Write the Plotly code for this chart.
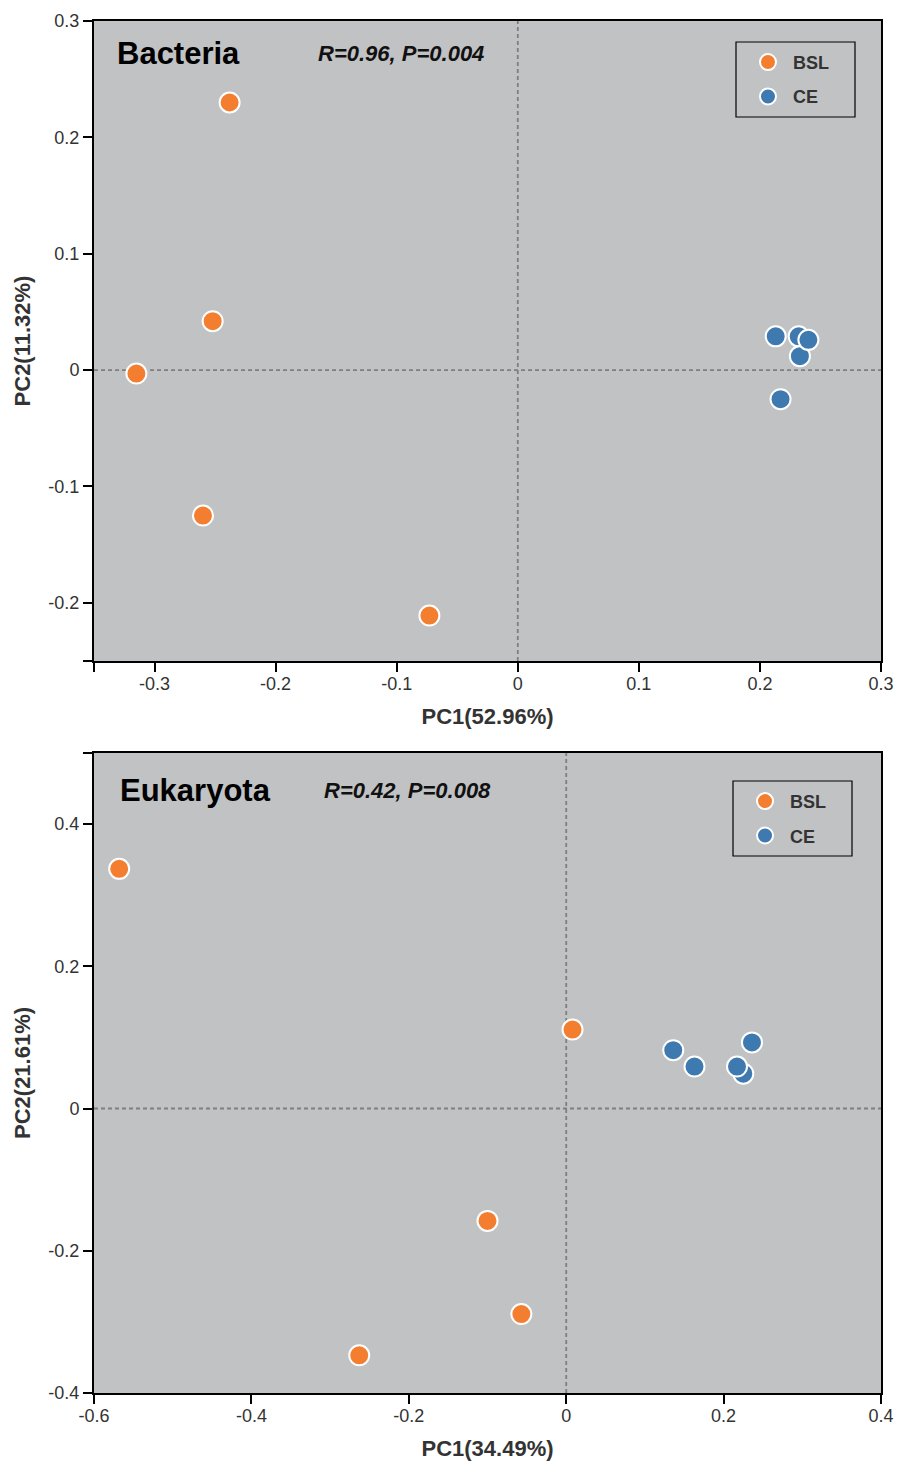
import plotly.graph_objects as go

# ---- data: PCoA scores ----
groups = ["BSL", "CE"]
colors = {"BSL": "#F47E30", "CE": "#3E7AB0"}

bac_bsl_pc1 = [-0.238, -0.252, -0.315, -0.260, -0.073]
bac_bsl_pc2 = [0.230, 0.042, -0.003, -0.125, -0.211]
bac_ce_pc1 = [0.213, 0.232, 0.233, 0.240, 0.217]
bac_ce_pc2 = [0.029, 0.029, 0.012, 0.026, -0.025]

euk_bsl_pc1 = [-0.568, 0.008, -0.100, -0.057, -0.263]
euk_bsl_pc2 = [0.337, 0.111, -0.158, -0.289, -0.347]
euk_ce_pc1 = [0.136, 0.163, 0.236, 0.225, 0.217]
euk_ce_pc2 = [0.082, 0.059, 0.093, 0.049, 0.059]

bac_xticks = [-0.35, -0.3, -0.2, -0.1, 0, 0.1, 0.2, 0.3]
bac_xtext = ["", "-0.3", "-0.2", "-0.1", "0", "0.1", "0.2", "0.3"]
bac_yticks = [-0.25, -0.2, -0.1, 0, 0.1, 0.2, 0.3]
bac_ytext = ["", "-0.2", "-0.1", "0", "0.1", "0.2", "0.3"]

euk_xticks = [-0.6, -0.4, -0.2, 0, 0.2, 0.4]
euk_xtext = ["-0.6", "-0.4", "-0.2", "0", "0.2", "0.4"]
euk_yticks = [-0.4, -0.2, 0, 0.2, 0.4, 0.5]
euk_ytext = ["-0.4", "-0.2", "0", "0.2", "0.4", ""]

FONT = "Liberation Sans, Arial, sans-serif"
BG = "#C1C2C4"

fig = go.Figure()

panels = [
    ("x", "y", "legend", bac_bsl_pc1, bac_bsl_pc2, bac_ce_pc1, bac_ce_pc2),
    ("x2", "y2", "legend2", euk_bsl_pc1, euk_bsl_pc2, euk_ce_pc1, euk_ce_pc2),
]
for xa, ya, lg, b1, b2, c1, c2 in panels:
    for name, xs, ys in [("BSL", b1, b2), ("CE", c1, c2)]:
        fig.add_trace(go.Scatter(
            x=xs, y=ys, mode="markers", name="<b>" + name + "</b>",
            xaxis=xa, yaxis=ya, legend=lg, legendgroup=lg + name,
            marker=dict(size=20, color=colors[name],
                        line=dict(color="white", width=2)),
        ))

axis_common = dict(
    showgrid=False, zeroline=False, showline=True, mirror=True,
    linecolor="black", linewidth=2, ticks="outside", ticklen=9,
    tickwidth=2, tickcolor="black", automargin=False,
    tickfont=dict(family=FONT, size=18, color="#333333"),
)
xaxis_extra = dict(ticklabelstandoff=-4)
title_font = dict(family=FONT, size=22, color="#333333")

fig.update_layout(
    width=897, height=1462,
    margin=dict(l=0, r=0, t=0, b=0, autoexpand=False),
    paper_bgcolor="white",
    showlegend=True,
    xaxis=dict(domain=[0.1048, 0.9822], anchor="y", range=[-0.35, 0.3],
               tickvals=bac_xticks, ticktext=bac_xtext,
               title=dict(text="<b>PC1(52.96%)</b>", font=title_font, standoff=16),
               **axis_common, **xaxis_extra),
    yaxis=dict(domain=[0.5479, 0.9856], anchor="x", range=[-0.25, 0.3],
               tickvals=bac_yticks, ticktext=bac_ytext,
               title=dict(text="<b>PC2(11.32%)</b>", font=title_font, standoff=12),
               **axis_common),
    xaxis2=dict(domain=[0.1048, 0.9822], anchor="y2", range=[-0.6, 0.4],
                tickvals=euk_xticks, ticktext=euk_xtext,
                title=dict(text="<b>PC1(34.49%)</b>", font=title_font, standoff=16),
                **axis_common, **xaxis_extra),
    yaxis2=dict(domain=[0.0472, 0.4850], anchor="x2", range=[-0.4, 0.5],
                tickvals=euk_yticks, ticktext=euk_ytext,
                title=dict(text="<b>PC2(21.61%)</b>", font=title_font, standoff=12),
                **axis_common),
    plot_bgcolor=BG,
)

legend_common = dict(
    bgcolor="rgba(0,0,0,0)", borderwidth=0,
    font=dict(family=FONT, size=18, color="#333333"),
    itemsizing="trace", tracegroupgap=8, itemwidth=40,
    xanchor="left", yanchor="top",
)
fig.update_layout(
    legend=dict(x=0.8283, y=0.9700, **legend_common),
    legend2=dict(x=0.8250, y=0.4645, **legend_common),
)

# legend frames
for x0, x1, y0, y1 in [(736, 855, 42, 117), (733, 852, 781, 856)]:
    fig.add_shape(type="rect", xref="paper", yref="paper",
                  x0=x0 / 897, x1=x1 / 897,
                  y0=1 - y1 / 1462, y1=1 - y0 / 1462,
                  line=dict(color="black", width=1.2), layer="above")

# dashed reference lines through the origin
for xa, ya in [("x", "y"), ("x2", "y2")]:
    dash = dict(color="#7F7F7F", width=1.8, dash="4px,3px")
    fig.add_shape(type="line", xref=xa, yref=ya + " domain",
                  x0=0, x1=0, y0=0, y1=1, line=dash, layer="below")
    fig.add_shape(type="line", xref=xa + " domain", yref=ya,
                  x0=0, x1=1, y0=0, y1=0, line=dash, layer="below")

# panel titles and statistics
labels = [
    ("x", "y", "Bacteria", "R=0.96, P=0.004", 0.027, 0.2825, 0.95),
    ("x2", "y2", "Eukaryota", "R=0.42, P=0.008", 0.030, 0.2895, 0.942),
]
for xa, ya, name, stat, tx, sx, ty in labels:
    fig.add_annotation(xref=xa + " domain", yref=ya + " domain", x=tx, y=ty,
                       text="<b>" + name + "</b>", showarrow=False,
                       xanchor="left", yanchor="middle",
                       font=dict(family=FONT, size=31, color="black"))
    fig.add_annotation(xref=xa + " domain", yref=ya + " domain", x=sx, y=ty,
                       text="<b><i>" + stat + "</i></b>", showarrow=False,
                       xanchor="left", yanchor="middle",
                       font=dict(family=FONT, size=22, color="#111111"))

fig.write_html("out.html")
